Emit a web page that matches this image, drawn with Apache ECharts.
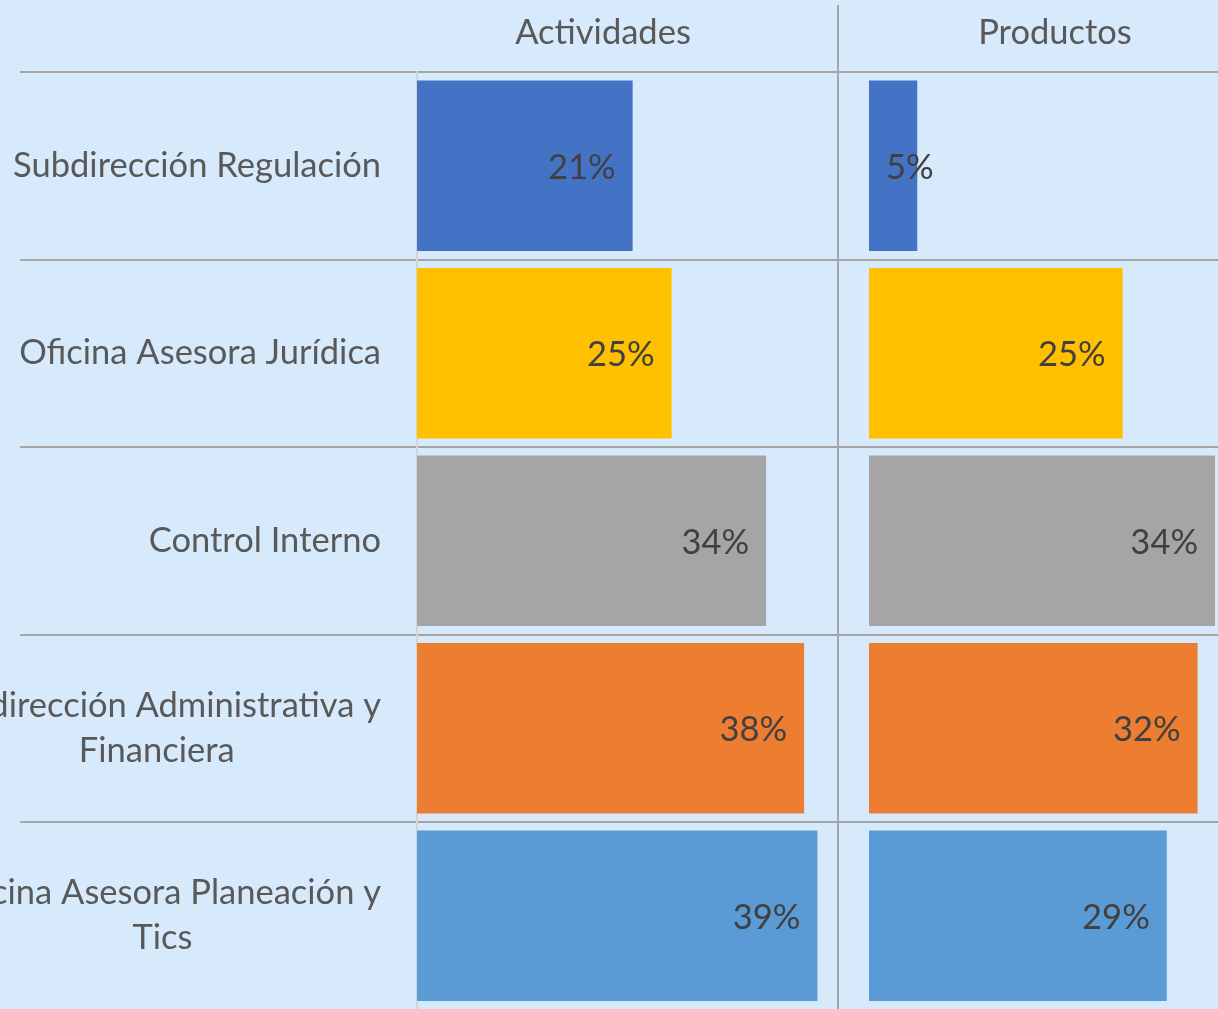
<!DOCTYPE html>
<html>
<head>
<meta charset="utf-8">
<script src="https://cdn.jsdelivr.net/npm/echarts@6/dist/echarts.min.js"></script>
<style>
  html, body { margin: 0; padding: 0; background: #D6EAFC; }
  #chart { width: 1218px; height: 1009px; }
</style>
</head>
<body>
<div id="chart"></div>
<script>
  // data
  const categories = [
    "Subdirección Regulación",
    "Oficina Asesora Jurídica",
    "Control Interno",
    "Subdirección Administrativa y Financiera",
    "Oficina Asesora Planeación y Tics"
  ];
  const actividades = [21, 24.8, 34, 37.7, 39];
  const productos = [4.7, 24.7, 33.7, 32, 29];
  const panelTitles = ["Actividades", "Productos"];
  const palette = ["#4472C4", "#FFC000", "#A5A5A5", "#ED7D31", "#5B9BD5"];

  const FONT = "Lato";
  const FS = 34.5;

  // long names go on two lines, last word wraps (like the original axis)
  function wrapName(name) {
    if (name.length <= 30) return "{c|" + name + "}";
    const i = name.lastIndexOf(" ");
    return "{c|" + name.slice(0, i) + "}\n{c|" + name.slice(i + 1) + "}";
  }

  function barData(values) {
    return values.map(function (v) {
      const item = { value: v };
      // too short for an inside-end label
      if (v < 8) item.label = { position: "insideLeft", distance: 17 };
      return item;
    });
  }

  const valueLabel = {
    show: true,
    position: "insideRight",
    distance: 17,
    offset: [0, 2],
    fontFamily: FONT,
    fontSize: FS,
    color: "#404040",
    formatter: function (p) { return Math.round(p.value) + "%"; }
  };

  const gridTop = 72, rowsH = 937.5;
  const hiddenX = { show: false, type: "value", min: 0, max: 41 };

  const chart = echarts.init(document.getElementById("chart"), null, { renderer: "canvas" });
  chart.setOption({
    animation: false,
    backgroundColor: "#D6EAFC",
    color: palette,
    textStyle: { fontFamily: FONT },
    grid: [
      { left: 20, right: 0, top: gridTop, height: rowsH, outerBoundsMode: "none" },
      { left: 417, width: 421, top: gridTop, height: rowsH, outerBoundsMode: "none" },
      { left: 869, width: 421, top: gridTop, height: rowsH, outerBoundsMode: "none" }
    ],
    xAxis: [
      Object.assign({ gridIndex: 0 }, hiddenX),
      Object.assign({ gridIndex: 1 }, hiddenX),
      Object.assign({ gridIndex: 2 }, hiddenX)
    ],
    yAxis: [
      {
        gridIndex: 0, type: "category", data: categories, inverse: true,
        axisLine: { show: false }, axisTick: { show: false }, axisLabel: { show: false },
        splitLine: { show: true, lineStyle: { color: "#A6A6A6", width: 2 } }
      },
      {
        gridIndex: 1, type: "category", data: categories, inverse: true,
        axisLine: { show: true, lineStyle: { color: "#D4D4D4", width: 2 } },
        axisTick: { show: false },
        splitLine: { show: false },
        axisLabel: {
          interval: 0,
          margin: 36,
          color: "#595959",
          fontFamily: FONT,
          fontSize: FS,
          lineHeight: 45,
          formatter: wrapName,
          rich: { c: { align: "center", fontFamily: FONT, fontSize: FS, lineHeight: 45, color: "#595959" } }
        }
      },
      {
        gridIndex: 2, type: "category", data: categories, inverse: true,
        axisLine: { show: false }, axisTick: { show: false }, axisLabel: { show: false },
        splitLine: { show: false }
      }
    ],
    series: [
      {
        name: panelTitles[0], type: "bar", xAxisIndex: 1, yAxisIndex: 1,
        colorBy: "data", barCategoryGap: "9%",
        data: barData(actividades), label: valueLabel
      },
      {
        name: panelTitles[1], type: "bar", xAxisIndex: 2, yAxisIndex: 2,
        colorBy: "data", barCategoryGap: "9%",
        data: barData(productos), label: valueLabel
      }
    ],
    graphic: [
      {
        type: "line", silent: true, z: 10,
        shape: { x1: 838, y1: 5, x2: 838, y2: 1009 },
        style: { stroke: "#A6A6A6", lineWidth: 2 }
      },
      {
        type: "text", x: 603, y: 33,
        style: { text: panelTitles[0], align: "center", verticalAlign: "middle",
                 fontFamily: FONT, fontSize: FS, fill: "#595959" }
      },
      {
        type: "text", x: 1055, y: 33,
        style: { text: panelTitles[1], align: "center", verticalAlign: "middle",
                 fontFamily: FONT, fontSize: FS, fill: "#595959" }
      }
    ]
  });
</script>
</body>
</html>
